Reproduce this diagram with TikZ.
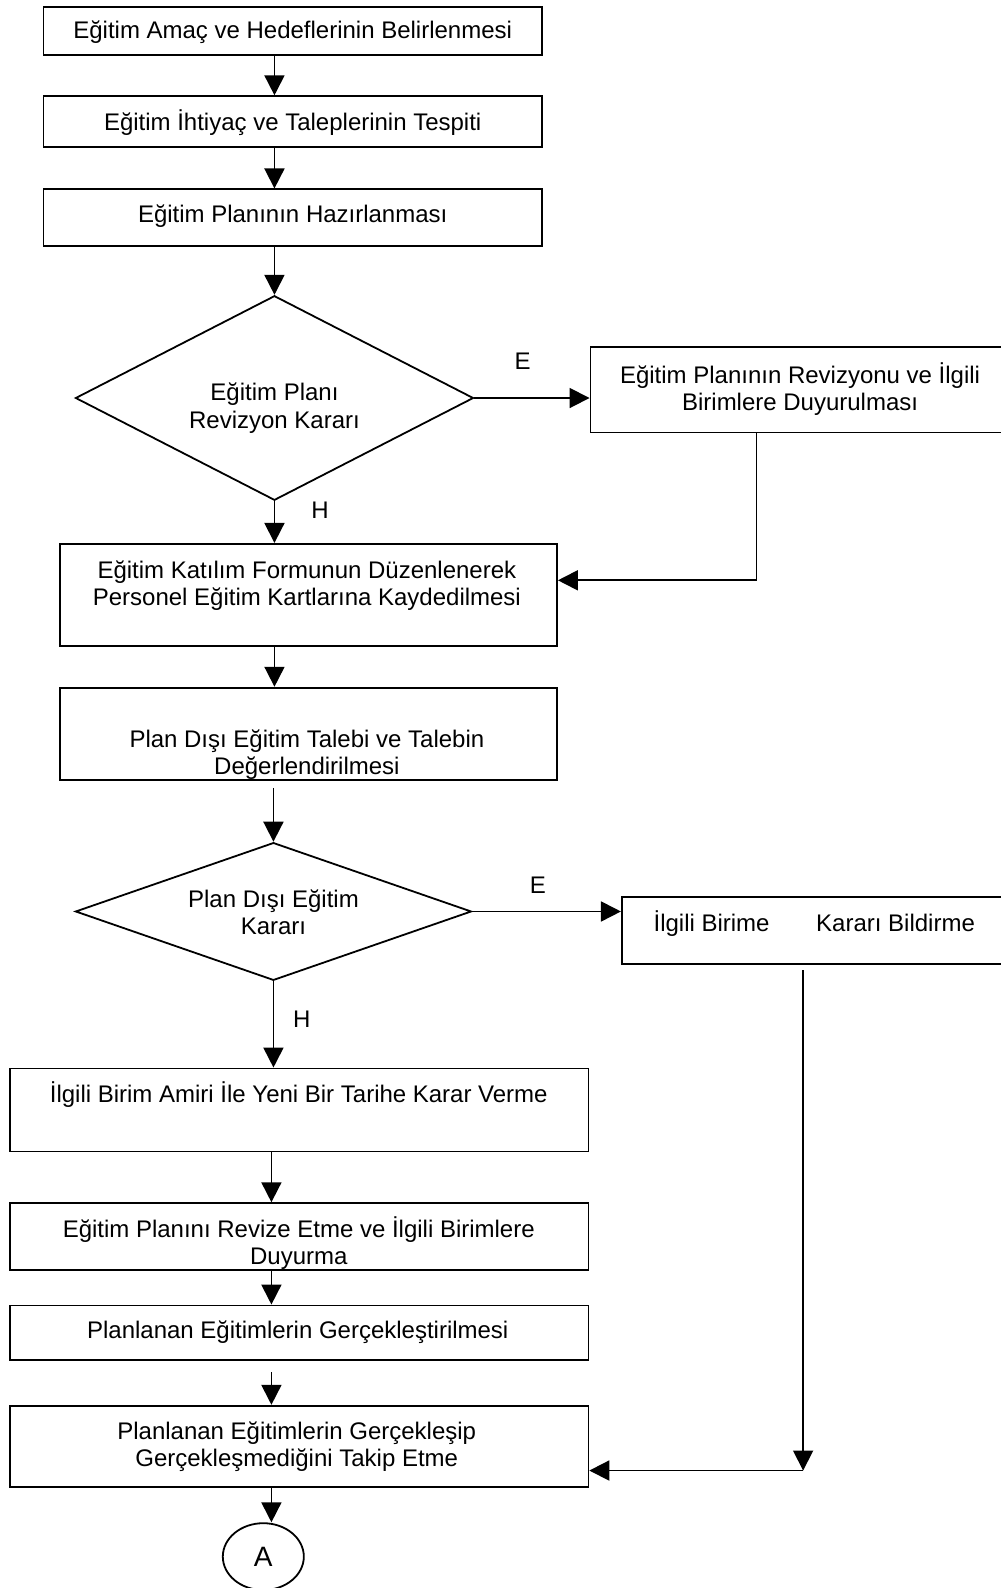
\documentclass[tikz,border=0pt]{standalone}
\usepackage{fontspec}
\setmainfont{Liberation Sans}
\usetikzlibrary{shapes.geometric,arrows.meta}
\def\px{0.50658pt}
\begin{document}
\begin{tikzpicture}[x=0.50658pt,y=-0.50658pt,
  every node/.style={font=\fontsize{12}{13.7}\selectfont},
  box/.style={draw,line width=0.9pt,rectangle,inner sep=0pt},
  dia/.style={draw,line width=0.9pt,diamond,inner sep=0pt},
  txt/.style={align=center,inner sep=0pt,yshift=-1pt},
  arr/.style={line width=0.9pt,-{Triangle[length=10pt,width=10pt]}},
  ln/.style={line width=0.9pt}]
\useasboundingbox (0,0) rectangle (988,1568);
% boxes
\node[box,minimum width=492*\px,minimum height=47*\px] (b1) at (289,30.5) {};
\node[txt] (t1) at (289,30) {Eğitim Amaç ve Hedeflerinin Belirlenmesi};
\node[box,minimum width=492*\px,minimum height=50*\px] (b2) at (289,120) {};
\node[txt] (t2) at (289,119) {Eğitim İhtiyaç ve Taleplerinin Tespiti};
\node[box,minimum width=492*\px,minimum height=56*\px] (b3) at (289,215) {};
\node[txt] (t3) at (289,211) {Eğitim Planının Hazırlanması};
\node[dia,minimum width=393*\px,minimum height=202*\px] (d1) at (271,393) {};
\node[txt] (td1) at (271,401) {Eğitim Planı\\Revizyon Kararı};
\node[box,minimum width=406*\px,minimum height=84*\px] (b4) at (786,385) {};
\node[txt] (t4) at (790,382) {Eğitim Planının Revizyonu ve İlgili\\Birimlere Duyurulması};
\node[box,minimum width=491*\px,minimum height=101*\px] (b5) at (304.5,587.5) {};
\node[txt] (t5) at (303,576) {Eğitim Katılım Formunun Düzenlenerek\\Personel Eğitim Kartlarına Kaydedilmesi};
\node[box,minimum width=491*\px,minimum height=91*\px] (b6) at (304.5,724.5) {};
\node[txt] (t6) at (303,743) {Plan Dışı Eğitim Talebi ve Talebin\\Değerlendirilmesi};
\node[dia,minimum width=391*\px,minimum height=136*\px] (d2) at (270,900) {};
\node[txt] (td2) at (270,899) {Plan Dışı Eğitim\\Kararı};
\node[box,minimum width=375*\px,minimum height=66*\px] (b7) at (801.5,919) {};
\node[txt] (t7) at (804,910) {İlgili Birime\hspace{20pt} Kararı Bildirme};
\node[box,minimum width=571*\px,minimum height=82*\px] (b8) at (295.5,1096) {};
\node[txt] (t8) at (295,1079) {İlgili Birim Amiri İle Yeni Bir Tarihe Karar Verme};
\node[box,minimum width=571*\px,minimum height=66*\px] (b9) at (295.5,1221) {};
\node[txt] (t9) at (295,1225.5) {Eğitim Planını Revize Etme ve İlgili Birimlere\\Duyurma};
\node[box,minimum width=571*\px,minimum height=54*\px] (b10) at (295.5,1316) {};
\node[txt] (t10) at (294,1313) {Planlanan Eğitimlerin Gerçekleştirilmesi};
\node[box,minimum width=571*\px,minimum height=80*\px] (b11) at (295.5,1428) {};
\node[txt] (t11) at (293,1426.5) {Planlanan Eğitimlerin Gerçekleşip\\Gerçekleşmediğini Takip Etme};
\node[draw,line width=0.9pt,ellipse,minimum width=80*\px,minimum height=66*\px,inner sep=0pt,font=\fontsize{14}{16}\selectfont] (A) at (260,1537) {A};
% labels
\node[txt] (lE1) at (516,355) {E};
\node[txt] (lH1) at (316,502) {H};
\node[txt] (lE2) at (531,872) {E};
\node[txt] (lH2) at (298,1004) {H};
% coordinates
\coordinate (cA) at (271,0);
\coordinate (cB) at (268,0);
\coordinate (s6) at (270,778);
\coordinate (s10) at (268,1355);
\coordinate (k1) at (747,573);
\coordinate (s7) at (793,958);
\coordinate (k2) at (793,1452);
% arrows
\draw[arr] (b1.south -| cA) -- (b2.north -| cA);
\draw[arr] (b2.south -| cA) -- (b3.north -| cA);
\draw[arr] (b3.south -| cA) -- (d1.north);
\draw[arr] (d1.east) -- (b4.west |- d1.east);
\draw[arr] (d1.south) -- (b5.north -| d1.south);
\draw[arr] (b4.south -| k1) -- (k1) -- (b5.east |- k1);
\draw[arr] (b5.south -| cA) -- (b6.north -| cA);
\draw[arr] (s6) -- (d2.north);
\draw[arr] (d2.east) -- (b7.west |- d2.east);
\draw[arr] (d2.south) -- (b8.north -| d2.south);
\draw[arr] (b8.south -| cB) -- (b9.north -| cB);
\draw[arr] (b9.south -| cB) -- (b10.north -| cB);
\draw[arr] (s10) -- (b11.north -| cB);
\draw[arr] (b11.south -| cB) -- (A.north -| cB);
\draw[arr] (s7) -- (k2);
\draw[arr] (k2) -- (b11.east |- k2);
\end{tikzpicture}
\end{document}
